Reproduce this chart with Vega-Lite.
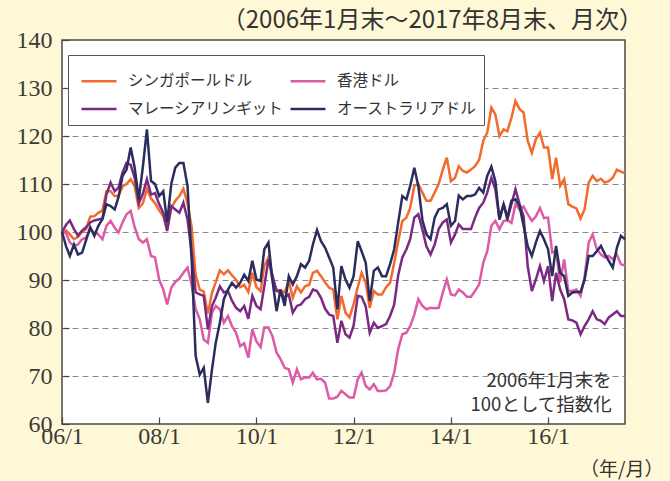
{
  "$schema": "https://vega.github.io/schema/vega-lite/v6.json",
  "width": 563,
  "height": 384,
  "autosize": {"type": "none"},
  "padding": {"left": 62, "top": 40, "right": 45, "bottom": 57},
  "background": "#FFF8D6",
  "config": {
    "view": {"fill": "white", "stroke": "#4a4a4a", "strokeWidth": 1.5},
    "font": "Noto Sans CJK JP"
  },
  "title": {"text": "（2006年1月末～2017年8月末、月次）", "anchor": "end", "frame": "group", "fontSize": 24, "fontWeight": "normal", "color": "#333333", "font": "Noto Sans CJK JP", "offset": -5, "dx": 18},
  "layer": [
    {
      "data": {"values": [
{"d":"2006-01-01","s":100,"h":100,"m":100,"a":100},
{"d":"2006-02-01","s":100.3,"h":99.7,"m":101.5,"a":97},
{"d":"2006-03-01","s":99.5,"h":97.8,"m":102.4,"a":95},
{"d":"2006-04-01","s":98.5,"h":97.1,"m":100.6,"a":97.4},
{"d":"2006-05-01","s":99,"h":97.4,"m":99.2,"a":95.3},
{"d":"2006-06-01","s":100,"h":98.5,"m":100.3,"a":95.7},
{"d":"2006-07-01","s":100.6,"h":98.8,"m":101,"a":98.3},
{"d":"2006-08-01","s":103.2,"h":100.5,"m":102,"a":101},
{"d":"2006-09-01","s":103.3,"h":99.9,"m":102.4,"a":99.2},
{"d":"2006-10-01","s":104,"h":99.5,"m":102.6,"a":101.3},
{"d":"2006-11-01","s":104.5,"h":98.5,"m":102.8,"a":102.7},
{"d":"2006-12-01","s":108.5,"h":101.3,"m":107.8,"a":105.8},
{"d":"2007-01-01","s":108.5,"h":102.3,"m":110.3,"a":105.4},
{"d":"2007-02-01","s":107.5,"h":100.9,"m":108.5,"a":104.7},
{"d":"2007-03-01","s":107.5,"h":99.9,"m":109.2,"a":107.2},
{"d":"2007-04-01","s":109.5,"h":102,"m":112.4,"a":111.7},
{"d":"2007-05-01","s":110,"h":103.7,"m":114.4,"a":113},
{"d":"2007-06-01","s":111,"h":104.4,"m":114,"a":117.6},
{"d":"2007-07-01","s":109.5,"h":101,"m":111.3,"a":113.4},
{"d":"2007-08-01","s":105,"h":98.5,"m":106,"a":106.8},
{"d":"2007-09-01","s":106,"h":97.8,"m":108,"a":113.7},
{"d":"2007-10-01","s":109,"h":98.5,"m":111,"a":121.4},
{"d":"2007-11-01","s":107,"h":95,"m":107.8,"a":110.6},
{"d":"2007-12-01","s":106,"h":94.7,"m":108.1,"a":110},
{"d":"2008-01-01","s":104.5,"h":90.1,"m":105.8,"a":107.5},
{"d":"2008-02-01","s":103.3,"h":88,"m":104,"a":108.5},
{"d":"2008-03-01","s":100.5,"h":84.9,"m":100.2,"a":102},
{"d":"2008-04-01","s":105,"h":88.4,"m":105.4,"a":110},
{"d":"2008-05-01","s":106.5,"h":89.6,"m":104.7,"a":113.4},
{"d":"2008-06-01","s":107.5,"h":90.3,"m":104,"a":114.4},
{"d":"2008-07-01","s":109,"h":91.5,"m":106.1,"a":114.4},
{"d":"2008-08-01","s":106,"h":92.6,"m":102.6,"a":109.6},
{"d":"2008-09-01","s":101,"h":89,"m":95.7,"a":94.3},
{"d":"2008-10-01","s":91,"h":84,"m":87.4,"a":74.2},
{"d":"2008-11-01","s":88,"h":81.8,"m":87,"a":70.3},
{"d":"2008-12-01","s":87.6,"h":77.6,"m":86.7,"a":71.7},
{"d":"2009-01-01","s":83,"h":76.9,"m":79.7,"a":64.4},
{"d":"2009-02-01","s":87.4,"h":83.2,"m":84.6,"a":71.4},
{"d":"2009-03-01","s":89.5,"h":84.6,"m":86.3,"a":76.9},
{"d":"2009-04-01","s":92,"h":83.9,"m":88.7,"a":81.1},
{"d":"2009-05-01","s":91.2,"h":81.1,"m":87.4,"a":86},
{"d":"2009-06-01","s":92,"h":82.5,"m":87.7,"a":88},
{"d":"2009-07-01","s":91,"h":80.4,"m":85.7,"a":89.4},
{"d":"2009-08-01","s":90,"h":79,"m":84.2,"a":88.4},
{"d":"2009-09-01","s":88.5,"h":76.2,"m":83.5,"a":89.4},
{"d":"2009-10-01","s":89,"h":76.8,"m":84.6,"a":91.1},
{"d":"2009-11-01","s":87.5,"h":73.8,"m":81.9,"a":89.8},
{"d":"2009-12-01","s":91.5,"h":79.7,"m":86.7,"a":94},
{"d":"2010-01-01","s":88.5,"h":77.2,"m":84.6,"a":90.1},
{"d":"2010-02-01","s":87.7,"h":76,"m":83.9,"a":89.8},
{"d":"2010-03-01","s":93,"h":80.1,"m":88.7,"a":96.4},
{"d":"2010-04-01","s":94.7,"h":80.1,"m":94.3,"a":97.8},
{"d":"2010-05-01","s":90,"h":78.3,"m":91,"a":90},
{"d":"2010-06-01","s":88,"h":74.9,"m":87.7,"a":83.5},
{"d":"2010-07-01","s":87.8,"h":73.5,"m":87.5,"a":88},
{"d":"2010-08-01","s":87.4,"h":71.7,"m":86.3,"a":84.6},
{"d":"2010-09-01","s":89.8,"h":71.4,"m":87,"a":90.8},
{"d":"2010-10-01","s":86.3,"h":68.6,"m":83.2,"a":89.1},
{"d":"2010-11-01","s":88.7,"h":71.4,"m":84.6,"a":90.8},
{"d":"2010-12-01","s":87.4,"h":69.3,"m":84.9,"a":93.3},
{"d":"2011-01-01","s":88.7,"h":69.7,"m":86,"a":92.6},
{"d":"2011-02-01","s":89,"h":69.7,"m":86.5,"a":94},
{"d":"2011-03-01","s":91.5,"h":70.7,"m":88,"a":97.4},
{"d":"2011-04-01","s":91.9,"h":69.3,"m":87.7,"a":100.4},
{"d":"2011-05-01","s":90.8,"h":69.4,"m":86.3,"a":98.1},
{"d":"2011-06-01","s":89.5,"h":68.6,"m":84,"a":96.7},
{"d":"2011-07-01","s":88.4,"h":65.3,"m":82.8,"a":94.7},
{"d":"2011-08-01","s":88,"h":65.3,"m":82.5,"a":92.6},
{"d":"2011-09-01","s":81.8,"h":65.7,"m":76.9,"a":83.9},
{"d":"2011-10-01","s":86.7,"h":66.9,"m":81.5,"a":92.9},
{"d":"2011-11-01","s":83.2,"h":66.2,"m":78.7,"a":90.1},
{"d":"2011-12-01","s":82.2,"h":65.5,"m":78,"a":88.4},
{"d":"2012-01-01","s":85,"h":65.5,"m":80.5,"a":90.8},
{"d":"2012-02-01","s":88.5,"h":69.3,"m":86.7,"a":98.1},
{"d":"2012-03-01","s":91.5,"h":70.7,"m":86.5,"a":96},
{"d":"2012-04-01","s":89.4,"h":67.9,"m":84.5,"a":93.6},
{"d":"2012-05-01","s":84.2,"h":67.2,"m":79,"a":85.6},
{"d":"2012-06-01","s":87.7,"h":68.3,"m":81.1,"a":91.9},
{"d":"2012-07-01","s":87,"h":66.9,"m":80,"a":92.6},
{"d":"2012-08-01","s":87,"h":66.9,"m":80.4,"a":90.8},
{"d":"2012-09-01","s":88.5,"h":67,"m":80.8,"a":90.8},
{"d":"2012-10-01","s":89.4,"h":67.9,"m":82.5,"a":93.3},
{"d":"2012-11-01","s":93.6,"h":70.7,"m":84.9,"a":96.4},
{"d":"2012-12-01","s":98,"h":75.6,"m":91,"a":102},
{"d":"2013-01-01","s":102.3,"h":78.7,"m":94.7,"a":107.5},
{"d":"2013-02-01","s":103,"h":79,"m":96.4,"a":106.8},
{"d":"2013-03-01","s":105,"h":80.4,"m":98.5,"a":109.6},
{"d":"2013-04-01","s":109.6,"h":82.8,"m":103,"a":113.4},
{"d":"2013-05-01","s":110,"h":86,"m":103.7,"a":109.6},
{"d":"2013-06-01","s":108.2,"h":84.6,"m":100.5,"a":102.5},
{"d":"2013-07-01","s":106.5,"h":83.9,"m":97,"a":99.5},
{"d":"2013-08-01","s":106.5,"h":84.2,"m":95.3,"a":98.5},
{"d":"2013-09-01","s":108.2,"h":84.1,"m":97.4,"a":103},
{"d":"2013-10-01","s":110,"h":84.2,"m":100.6,"a":104.7},
{"d":"2013-11-01","s":113,"h":87.4,"m":102,"a":105},
{"d":"2013-12-01","s":115.5,"h":90.1,"m":102.6,"a":105.8},
{"d":"2014-01-01","s":110.6,"h":87,"m":97.8,"a":101.3},
{"d":"2014-02-01","s":111.3,"h":86.8,"m":99.5,"a":102.3},
{"d":"2014-03-01","s":113.7,"h":88,"m":101.6,"a":107.6},
{"d":"2014-04-01","s":112.7,"h":87.4,"m":100.6,"a":106.8},
{"d":"2014-05-01","s":112.4,"h":86.5,"m":100.6,"a":107.5},
{"d":"2014-06-01","s":113,"h":86.5,"m":100.6,"a":107.5},
{"d":"2014-07-01","s":113.7,"h":87.7,"m":103,"a":107.8},
{"d":"2014-08-01","s":115,"h":89.1,"m":105,"a":109.2},
{"d":"2014-09-01","s":119,"h":93.6,"m":106.1,"a":108.2},
{"d":"2014-10-01","s":120.7,"h":96,"m":108.2,"a":111.7},
{"d":"2014-11-01","s":125.9,"h":101.3,"m":111.3,"a":113.6},
{"d":"2014-12-01","s":124.5,"h":102.3,"m":108.9,"a":110.6},
{"d":"2015-01-01","s":120,"h":100.6,"m":102.6,"a":102.6},
{"d":"2015-02-01","s":121.4,"h":102.3,"m":105.8,"a":105.8},
{"d":"2015-03-01","s":121,"h":102.5,"m":102.6,"a":103},
{"d":"2015-04-01","s":123.8,"h":101.9,"m":105.8,"a":106.5},
{"d":"2015-05-01","s":127.3,"h":105.8,"m":108.9,"a":106.8},
{"d":"2015-06-01","s":125.6,"h":104.7,"m":105.8,"a":105.4},
{"d":"2015-07-01","s":124.9,"h":105.3,"m":103.3,"a":101.3},
{"d":"2015-08-01","s":119,"h":103.7,"m":92.9,"a":97.1},
{"d":"2015-09-01","s":116.5,"h":102.3,"m":87.7,"a":95},
{"d":"2015-10-01","s":119.3,"h":103.2,"m":90.1,"a":97.8},
{"d":"2015-11-01","s":120.7,"h":105,"m":92.9,"a":100.2},
{"d":"2015-12-01","s":117.6,"h":102.9,"m":89.8,"a":98.5},
{"d":"2016-01-01","s":117.6,"h":103,"m":92.9,"a":96.4},
{"d":"2016-02-01","s":111,"h":95.7,"m":85.6,"a":90.8},
{"d":"2016-03-01","s":115.5,"h":96,"m":91.5,"a":97.1},
{"d":"2016-04-01","s":109.6,"h":89.5,"m":88,"a":91.5},
{"d":"2016-05-01","s":111,"h":94.3,"m":86,"a":90.8},
{"d":"2016-06-01","s":105.8,"h":87.7,"m":81.8,"a":86.7},
{"d":"2016-07-01","s":105.3,"h":87.7,"m":81.6,"a":87.4},
{"d":"2016-08-01","s":104.9,"h":88,"m":81.1,"a":87.5},
{"d":"2016-09-01","s":102.8,"h":86.7,"m":78.7,"a":87.5},
{"d":"2016-10-01","s":104.7,"h":90.5,"m":80.4,"a":90},
{"d":"2016-11-01","s":110.3,"h":97.8,"m":81.8,"a":95},
{"d":"2016-12-01","s":111.7,"h":99.5,"m":83.5,"a":95},
{"d":"2017-01-01","s":110.6,"h":96.4,"m":81.8,"a":96},
{"d":"2017-02-01","s":111.1,"h":95.3,"m":81.5,"a":97.1},
{"d":"2017-03-01","s":110.3,"h":94.7,"m":80.8,"a":95.5},
{"d":"2017-04-01","s":110.6,"h":95,"m":82.2,"a":94},
{"d":"2017-05-01","s":111.3,"h":94.3,"m":82.8,"a":92.6},
{"d":"2017-06-01","s":113,"h":95.3,"m":83.5,"a":96.7},
{"d":"2017-07-01","s":112.6,"h":93.3,"m":82.5,"a":99.2},
{"d":"2017-08-01","s":112.2,"h":93,"m":82.5,"a":98.5}
      ]},
      "transform": [{"fold": ["s", "h", "m", "a"], "as": ["k", "v"]}],
      "mark": {"type": "line", "strokeWidth": 2.5},
      "encoding": {
        "x": {
          "field": "d", "type": "temporal",
          "scale": {"type": "utc", "domain": [{"year": 2006, "month": 1, "date": 1, "utc": true}, {"year": 2017, "month": 8, "date": 1, "utc": true}]},
          "title": "（年/月）",
          "axis": {
            "values": [
              {"year": 2006, "month": 1, "date": 1, "utc": true},
              {"year": 2008, "month": 1, "date": 1, "utc": true},
              {"year": 2010, "month": 1, "date": 1, "utc": true},
              {"year": 2012, "month": 1, "date": 1, "utc": true},
              {"year": 2014, "month": 1, "date": 1, "utc": true},
              {"year": 2016, "month": 1, "date": 1, "utc": true}
            ],
            "format": "%y/%-m",
            "domain": false, "grid": false,
            "tickSize": -7, "tickColor": "#444444", "tickWidth": 1.2,
            "labelFlush": false,
            "labelFontSize": 24, "labelFont": "Liberation Sans Narrow", "labelColor": "#3a3a3a", "labelPadding": 7,
            "titleFontSize": 19, "titleFontWeight": "normal", "titleColor": "#333333", "titleFont": "Noto Sans CJK JP",
            "titleAnchor": "end", "titleAlign": "right", "titleBaseline": "alphabetic", "titleX": 601, "titleY": 51
          }
        },
        "y": {
          "field": "v", "type": "quantitative",
          "scale": {"domain": [60, 140], "nice": false, "zero": false},
          "title": null,
          "axis": {
            "values": [60, 70, 80, 90, 100, 110, 120, 130, 140],
            "domain": false, "grid": true,
            "gridColor": "#8a8a8a", "gridDash": [6, 4], "gridWidth": 1,
            "gridOpacity": {"condition": {"test": "datum.value == 60 || datum.value == 140", "value": 0}, "value": 1},
            "tickSize": -7, "tickColor": "#444444", "tickWidth": 1.2,
            "labelFontSize": 24, "labelFont": "Liberation Sans Narrow", "labelColor": "#3a3a3a", "labelPadding": 17
          }
        },
        "color": {
          "field": "k", "type": "nominal",
          "scale": {"domain": ["s", "m", "h", "a"], "range": ["#F26A2C", "#7A2A82", "#DD5AA6", "#2B2D5E"]},
          "legend": {
            "orient": "none", "legendX": 6, "legendY": 15, "columns": 2, "title": null,
            "symbolType": "stroke", "symbolSize": 1225, "symbolStrokeWidth": 2.5, "symbolOffset": 5,
            "labelFontSize": 15.5, "labelFont": "Noto Sans CJK JP", "labelColor": "#333333", "labelOffset": 10,
            "strokeColor": "#555555", "fillColor": "white", "padding": 7, "rowPadding": 0, "columnPadding": 0,
            "labelExpr": "{'s': 'シンガポールドル', 'h': '香港ドル', 'm': 'マレーシアリンギット', 'a': 'オーストラリアドル'}[datum.label]"
          }
        }
      }
    },
    {
      "data": {"values": [{"t": "2006年1月末を"}]},
      "mark": {"type": "text", "align": "right", "baseline": "middle", "fontSize": 18.5, "color": "#333333", "font": "Noto Sans CJK JP"},
      "encoding": {
        "x": {"datum": {"year": 2017, "month": 4, "date": 24, "utc": true}, "type": "temporal"},
        "y": {"datum": 68.9},
        "text": {"field": "t"}
      }
    },
    {
      "data": {"values": [{"t": "100として指数化"}]},
      "mark": {"type": "text", "align": "right", "baseline": "middle", "fontSize": 18.5, "color": "#333333", "font": "Noto Sans CJK JP"},
      "encoding": {
        "x": {"datum": {"year": 2017, "month": 4, "date": 24, "utc": true}, "type": "temporal"},
        "y": {"datum": 63.9},
        "text": {"field": "t"}
      }
    }
  ]
}
